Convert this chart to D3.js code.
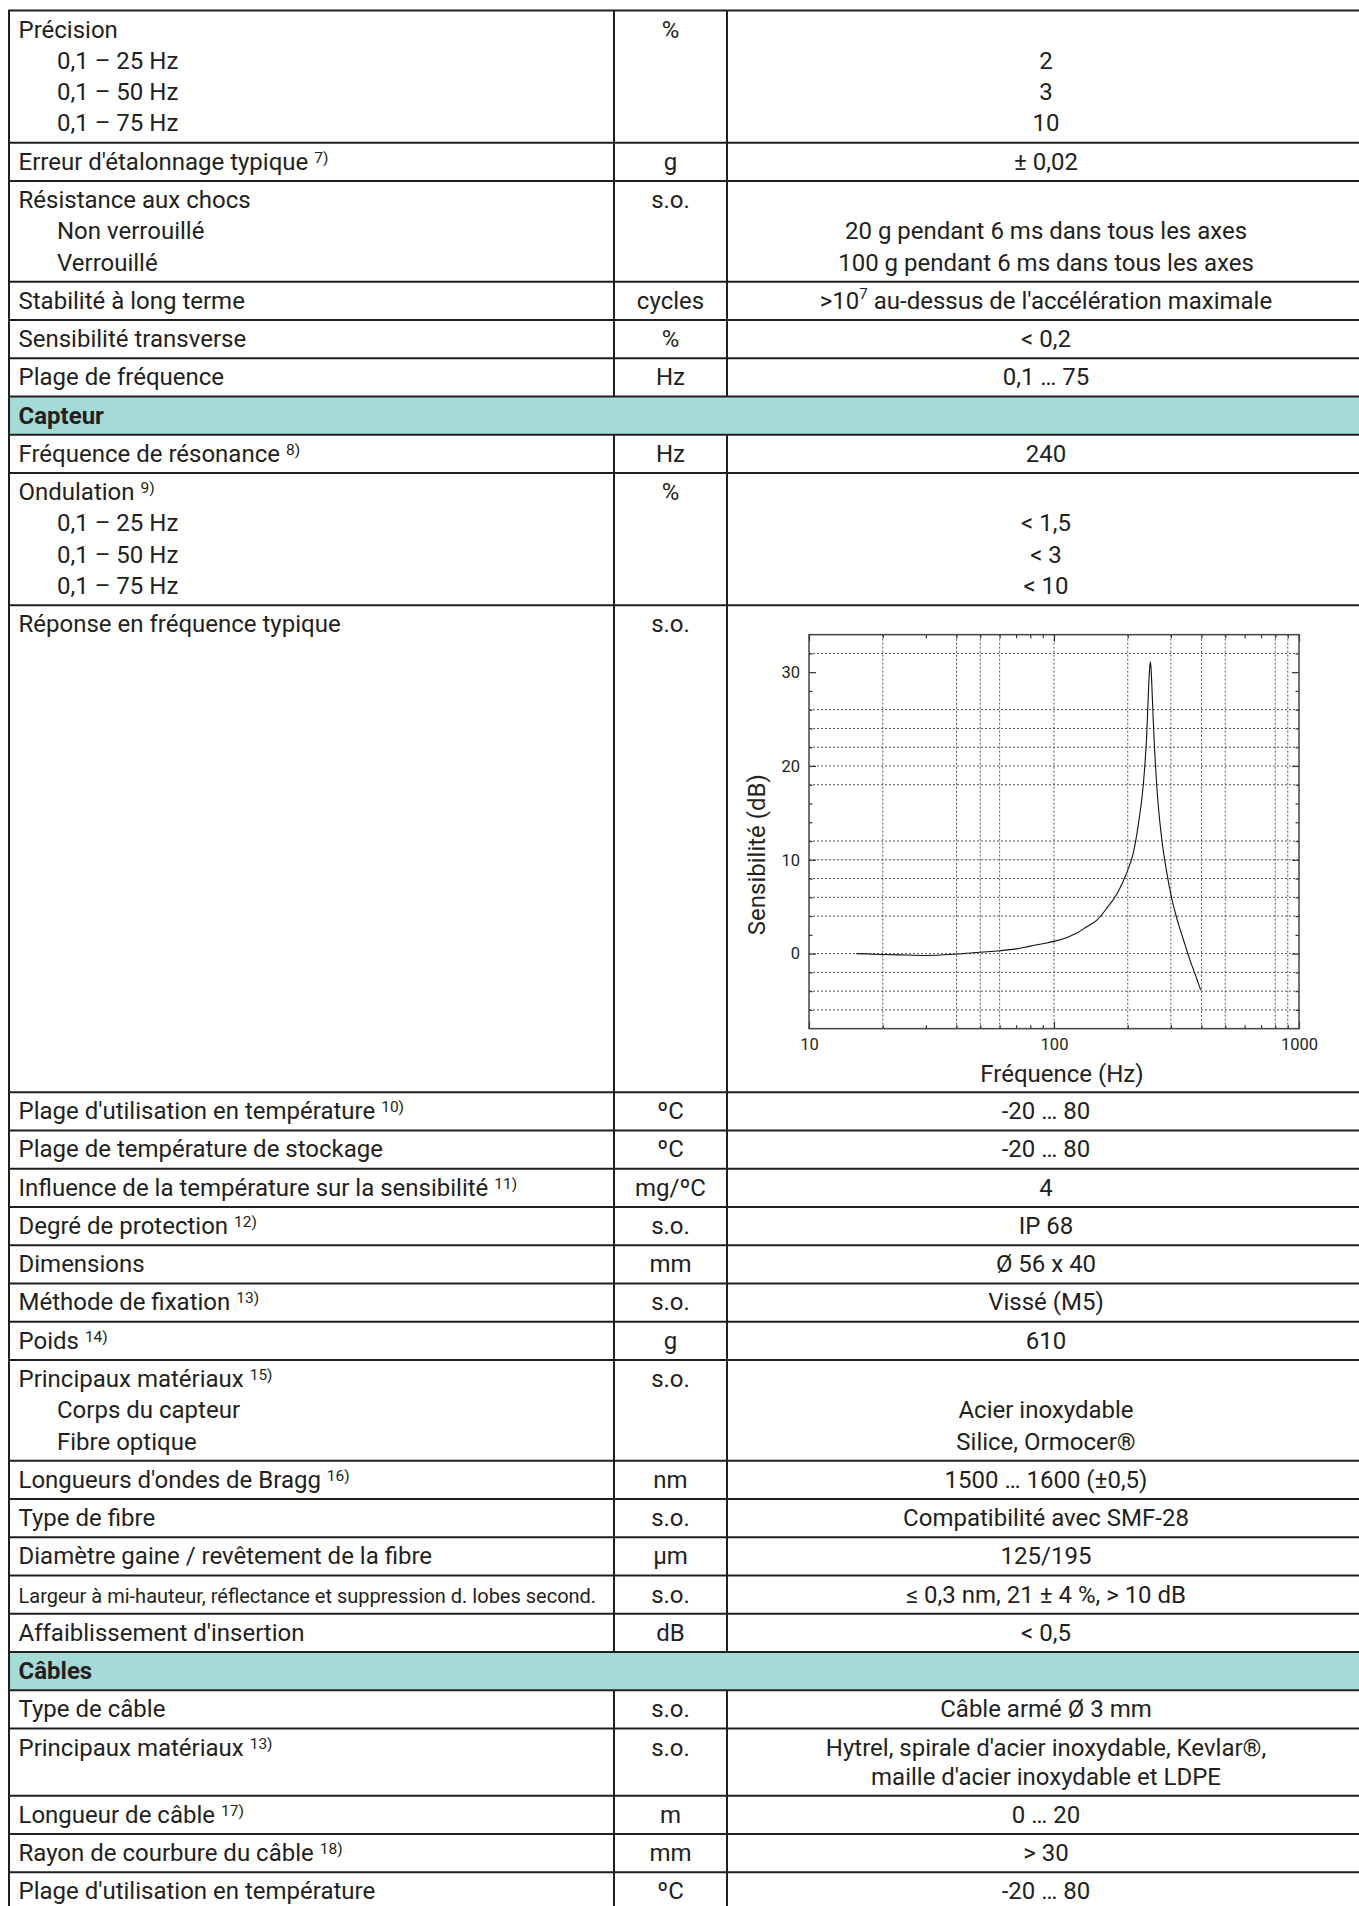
<!DOCTYPE html>
<html><head><meta charset="utf-8">
<script src="https://cdn.jsdelivr.net/npm/d3@7"></script>
<style>
html,body{margin:0;padding:0;background:#fff;}
svg{display:block;}
text{font-family:Roboto,"Noto Sans",sans-serif;fill:#231f20;}
</style></head><body>
<svg id="c" width="1359" height="1906"></svg>
<script>
// ---------- table data ----------
const rowLabels = [
  ["Précision","0,1 – 25 Hz","0,1 – 50 Hz","0,1 – 75 Hz"],
  ["Erreur d'étalonnage typique"],
  ["Résistance aux chocs","Non verrouillé","Verrouillé"],
  ["Stabilité à long terme"],
  ["Sensibilité transverse"],
  ["Plage de fréquence"],
  ["Capteur"],
  ["Fréquence de résonance"],
  ["Ondulation","0,1 – 25 Hz","0,1 – 50 Hz","0,1 – 75 Hz"],
  ["Réponse en fréquence typique"],
  ["Plage d'utilisation en température"],
  ["Plage de température de stockage"],
  ["Influence de la température sur la sensibilité"],
  ["Degré de protection"],
  ["Dimensions"],
  ["Méthode de fixation"],
  ["Poids"],
  ["Principaux matériaux","Corps du capteur","Fibre optique"],
  ["Longueurs d'ondes de Bragg"],
  ["Type de fibre"],
  ["Diamètre gaine / revêtement de la fibre"],
  ["Largeur à mi-hauteur, réflectance et suppression d. lobes second."],
  ["Affaiblissement d'insertion"],
  ["Câbles"],
  ["Type de câble"],
  ["Principaux matériaux"],
  ["Longueur de câble"],
  ["Rayon de courbure du câble"],
  ["Plage d'utilisation en température"]
];
const rowNotes = ["","7)","","","","","","8)","9)","","10)","","11)","12)","","13)","14)","15)","16)","","","","","","","13)","17)","18)",""];
const rowUnits = ["%","g","s.o.","cycles","%","Hz",null,"Hz","%","s.o.","ºC","ºC","mg/ºC","s.o.","mm","s.o.","g","s.o.","nm","s.o.","µm","s.o.","dB",null,"s.o.","s.o.","m","mm","ºC"];
const rowValues = [
  ["","2","3","10"],
  ["± 0,02"],
  ["","20 g pendant 6 ms dans tous les axes","100 g pendant 6 ms dans tous les axes"],
  [">10^7^ au-dessus de l'accélération maximale"],
  ["< 0,2"],
  ["0,1 … 75"],
  [],
  ["240"],
  ["","< 1,5","< 3","< 10"],
  [],
  ["-20 … 80"],
  ["-20 … 80"],
  ["4"],
  ["IP 68"],
  ["Ø 56 x 40"],
  ["Vissé (M5)"],
  ["610"],
  ["","Acier inoxydable","Silice, Ormocer®"],
  ["1500 … 1600 (±0,5)"],
  ["Compatibilité avec SMF-28"],
  ["125/195"],
  ["≤ 0,3 nm, 21 ± 4 %, > 10 dB"],
  ["< 0,5"],
  [],
  ["Câble armé Ø 3 mm"],
  ["Hytrel, spirale d'acier inoxydable, Kevlar®,","maille d'acier inoxydable et LDPE"],
  ["0 … 20"],
  ["> 30"],
  ["-20 … 80"]
];
const chartRowIndex = 9;
const smallFontRows = [21];
const tightRows = [25];

// ---------- chart data ----------
const freqHz = [15.6,20,25,30,40,50,60,70,80,90,100,115,124,135,150,165,180,190,200,211,221,232,239,243,245.5,247.5,249.5,251,254.5,262.5,275,288,300,313,327,343,359,378,397];
const sensDb = [0,-0.1,-0.15,-0.2,-0.05,0.15,0.3,0.5,0.8,1.05,1.3,1.8,2.2,2.8,3.6,4.9,6.3,7.5,8.9,10.8,13.8,18.3,23.3,28.0,30.3,31.1,30.0,28.4,24.5,18.0,12.3,8.8,6.3,4.3,2.6,0.9,-0.7,-2.3,-3.9];
const xMajorTicks = [10,100,1000];
const xMinorTicks = [20,30,40,50,60,70,80,90,200,300,400,500,600,700,800,900];
const yMajorTicks = [0,10,20,30];
const yMinorTicks = [-6,-4,-2,2,4,6,8,12,14,16,18,22,24,26,28,32];
const xGridVals = [20,40,50,60,100,200,300,400,500,800,900];
const yGridVals = [32,26,24,22,20,18,12,10,8,6,4,0,-2,-4,-6];
const xDomain = [10,1000];
const yDomain = [-8,34];

// ---------- layout ----------
const svg = d3.select("#c");
const X0 = 9, C1 = 614, C2 = 727, XR = 1366;
const TOP = 10.5, ROW_H = 38.25, GAP = 31.3, TIGHT_GAP = 29, CHART_H = 487;
const FS = 24, INK = "#231f20";

let cy = TOP;
const rows = rowLabels.map((lab, i) => {
  const isHeader = rowUnits[i] === null;
  const isChart = i === chartRowIndex;
  const n = Math.max(lab.length, rowValues[i].length);
  const gap = tightRows.includes(i) ? TIGHT_GAP : GAP;
  const h = isChart ? CHART_H : ROW_H + (n - 1) * gap;
  const r = {i, top: cy, h, isHeader, isChart, gap};
  cy += h;
  return r;
});

const gTable = svg.append("g");
rows.filter(r => r.isHeader).forEach(r => {
  gTable.append("rect").attr("x", X0).attr("y", r.top).attr("width", XR - X0).attr("height", r.h).attr("fill", "#a5dbd7");
});

function addRich(sel, str, supSize, supDy) {
  const parts = str.split("^");
  let shifted = false;
  parts.forEach((p, k) => {
    if (!p) return;
    const t = sel.append("tspan").text(p);
    if (k % 2 === 1) { t.attr("font-size", supSize).attr("dy", -supDy); shifted = true; }
    else if (shifted) { t.attr("dy", supDy); shifted = false; }
  });
}

rows.forEach(r => {
  const i = r.i;
  const fs = smallFontRows.includes(i) ? 20 : FS;
  rowLabels[i].forEach((lab, k) => {
    const t = gTable.append("text")
      .attr("x", k === 0 ? 18.5 : 57)
      .attr("y", r.top + 27 + k * r.gap)
      .attr("font-size", fs)
      .attr("font-weight", r.isHeader ? 700 : 400);
    t.append("tspan").text(lab);
    if (k === 0 && rowNotes[i]) {
      t.append("tspan").text(" ");
      t.append("tspan").text(rowNotes[i]).attr("font-size", 15.5).attr("dy", -7);
    }
  });
  if (rowUnits[i]) {
    gTable.append("text").attr("x", (C1 + C2) / 2).attr("y", r.top + 27)
      .attr("text-anchor", "middle").attr("font-size", FS).text(rowUnits[i]);
  }
  rowValues[i].forEach((v, k) => {
    if (!v) return;
    const t = gTable.append("text").attr("x", 1046).attr("y", r.top + 27 + k * r.gap)
      .attr("text-anchor", "middle").attr("font-size", FS);
    addRich(t, v, 15, 10);
  });
});

// lines
const lineG = svg.append("g").attr("stroke", INK).attr("stroke-width", 2);
const bounds = [rows[0].top].concat(rows.map(r => r.top + r.h));
bounds.forEach(b => lineG.append("line").attr("x1", X0 - 1).attr("x2", XR).attr("y1", b).attr("y2", b));
lineG.append("line").attr("x1", X0).attr("x2", X0).attr("y1", rows[0].top).attr("y2", cy);
rows.filter(r => !r.isHeader).forEach(r => {
  [C1, C2].forEach(cx => lineG.append("line").attr("x1", cx).attr("x2", cx).attr("y1", r.top).attr("y2", r.top + r.h));
});

// ---------- chart ----------
const cr = rows[chartRowIndex];
const fTop = cr.top + 29.5, fBot = cr.top + 423.5, fL = 809, fR = 1299;
const x = d3.scaleLog().domain(xDomain).range([fL, fR]);
const y = d3.scaleLinear().domain(yDomain).range([fBot, fTop]);
const gc = svg.append("g");

const grid = gc.append("g").attr("stroke", "#555").attr("stroke-width", 1).attr("stroke-dasharray", "2,2").attr("fill", "none");
yGridVals.forEach(v => grid.append("line").attr("x1", fL).attr("x2", fR).attr("y1", y(v)).attr("y2", y(v)));
xGridVals.forEach(v => grid.append("line").attr("y1", fTop).attr("y2", fBot).attr("x1", x(v)).attr("x2", x(v)));

function styleAxis(g) {
  g.select(".domain").remove();
  g.selectAll(".tick line").attr("stroke", "#333").attr("stroke-width", 1.2);
  g.selectAll(".tick text").attr("font-family", "'Liberation Sans', Arial, sans-serif").attr("font-size", 16.5).attr("fill", "#222");
}
const fmt = d3.format("d");
gc.append("g").attr("transform", `translate(${fL},0)`)
  .call(d3.axisLeft(y).tickValues(yMajorTicks).tickSizeInner(-7).tickSizeOuter(0).tickPadding(9).tickFormat(fmt)).call(styleAxis);
gc.append("g").attr("transform", `translate(${fL},0)`)
  .call(d3.axisLeft(y).tickValues(yMinorTicks).tickSizeInner(-3.5).tickSizeOuter(0).tickFormat("")).call(styleAxis);
gc.append("g").attr("transform", `translate(${fR},0)`)
  .call(d3.axisRight(y).tickValues(yMajorTicks).tickSizeInner(-7).tickSizeOuter(0).tickFormat("")).call(styleAxis);
gc.append("g").attr("transform", `translate(${fR},0)`)
  .call(d3.axisRight(y).tickValues(yMinorTicks).tickSizeInner(-3.5).tickSizeOuter(0).tickFormat("")).call(styleAxis);
gc.append("g").attr("transform", `translate(0,${fBot})`)
  .call(d3.axisBottom(x).tickValues(xMajorTicks).tickSizeInner(-7).tickSizeOuter(0).tickPadding(10).tickFormat(fmt)).call(styleAxis);
gc.append("g").attr("transform", `translate(0,${fBot})`)
  .call(d3.axisBottom(x).tickValues(xMinorTicks).tickSizeInner(-3.5).tickSizeOuter(0).tickFormat("")).call(styleAxis);
gc.append("g").attr("transform", `translate(0,${fTop})`)
  .call(d3.axisTop(x).tickValues(xMajorTicks).tickSizeInner(-7).tickSizeOuter(0).tickFormat("")).call(styleAxis);
gc.append("g").attr("transform", `translate(0,${fTop})`)
  .call(d3.axisTop(x).tickValues(xMinorTicks).tickSizeInner(-3.5).tickSizeOuter(0).tickFormat("")).call(styleAxis);

gc.append("rect").attr("x", fL).attr("y", fTop).attr("width", fR - fL).attr("height", fBot - fTop)
  .attr("fill", "none").attr("stroke", "#444").attr("stroke-width", 1.5);

const pts = freqHz.map((f, k) => ({f, s: sensDb[k]}));
gc.append("path").datum(pts)
  .attr("d", d3.line().x(d => x(d.f)).y(d => y(d.s)).curve(d3.curveMonotoneX))
  .attr("fill", "none").attr("stroke", "#111").attr("stroke-width", 1.1);

gc.append("text").attr("x", 1062).attr("y", cr.top + 477).attr("text-anchor", "middle").attr("font-size", 24).text("Fréquence (Hz)");
gc.append("text").attr("transform", `translate(765,${cr.top + 249.5}) rotate(-90)`).attr("text-anchor", "middle").attr("font-size", 24).text("Sensibilité (dB)");
</script>
</body></html>
